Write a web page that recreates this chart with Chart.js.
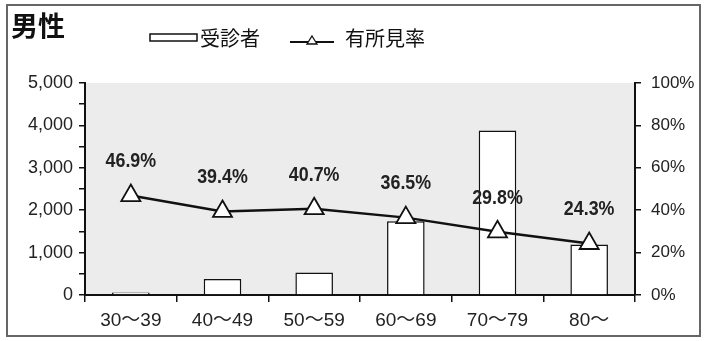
<!DOCTYPE html>
<html lang="ja">
<head>
<meta charset="utf-8">
<script src="https://cdn.jsdelivr.net/npm/chart.js@4"></script>
<style>
  html, body { margin: 0; padding: 0; background: #fff; }
  #wrap { width: 706px; height: 341px; }
</style>
</head>
<body>
<div id="wrap"><canvas id="maleChart"></canvas></div>
<script>
// データ
const ageGroups = ["30～39", "40～49", "50～59", "60～69", "70～79", "80～"];
const examinees = [60, 380, 530, 1740, 3880, 1190];
const findingRate = [46.9, 39.4, 40.7, 36.5, 29.8, 24.3];
const countTicks = [0, 1000, 2000, 3000, 4000, 5000];
const rateTicks = [0, 20, 40, 60, 80, 100];

const TICK_FONT = "'Liberation Sans', Arial, 'Noto Sans CJK JP', sans-serif";
const JP_FONT = "'Noto Sans CJK JP', sans-serif";

// 背景と枠
const frame = {
  id: "frame",
  beforeDraw(chart) {
    const { ctx, chartArea: a } = chart;
    ctx.save();
    ctx.fillStyle = "#ececec";
    ctx.fillRect(a.left, a.top, a.right - a.left, a.bottom - a.top);
    ctx.restore();
  },
  afterDraw(chart) {
    const ctx = chart.ctx;
    ctx.save();
    ctx.strokeStyle = "#666";
    ctx.lineWidth = 2;
    ctx.strokeRect(7, 5, 693, 331);
    ctx.restore();
  }
};

// タイトルと凡例
const header = {
  id: "header",
  afterDraw(chart) {
    const ctx = chart.ctx;
    const ds = chart.data.datasets;
    ctx.save();
    ctx.fillStyle = "#111";
    ctx.textBaseline = "middle";
    ctx.font = "bold 27px " + JP_FONT;
    ctx.fillText("男性", 11, 26);

    // 受診者
    ctx.fillStyle = "#fff";
    ctx.strokeStyle = "#111";
    ctx.lineWidth = 1.5;
    ctx.fillRect(150, 34, 47, 7);
    ctx.strokeRect(150, 34, 47, 7);
    ctx.fillStyle = "#111";
    ctx.font = "20px " + JP_FONT;
    ctx.fillText(ds[0].label, 200, 38);

    // 有所見率
    ctx.lineWidth = 2;
    ctx.beginPath();
    ctx.moveTo(290, 42);
    ctx.lineTo(334, 42);
    ctx.stroke();
    ctx.beginPath();
    ctx.moveTo(312, 36);
    ctx.lineTo(317, 44);
    ctx.lineTo(307, 44);
    ctx.closePath();
    ctx.fillStyle = "#fff";
    ctx.fill();
    ctx.lineWidth = 1.3;
    ctx.stroke();
    ctx.fillStyle = "#111";
    ctx.fillText(ds[1].label, 345, 38);
    ctx.restore();
  }
};

// 数値ラベル（少し縦長の字形に寄せる）
const rateLabels = {
  id: "rateLabels",
  afterDatasetsDraw(chart) {
    const ctx = chart.ctx;
    const meta = chart.getDatasetMeta(1);
    ctx.save();
    ctx.fillStyle = "#222";
    ctx.textAlign = "center";
    ctx.textBaseline = "middle";
    ctx.font = "bold 21px 'Liberation Sans', Arial, sans-serif";
    meta.data.forEach((pt, i) => {
      ctx.save();
      ctx.translate(pt.x, pt.y - 34);
      ctx.scale(0.85, 1);
      ctx.fillText(findingRate[i].toFixed(1) + "%", 0, 0);
      ctx.restore();
    });
    ctx.restore();
  }
};

new Chart(document.getElementById("maleChart"), {
  data: {
    labels: ageGroups,
    datasets: [
      {
        type: "bar",
        label: "受診者",
        data: examinees,
        yAxisID: "y",
        backgroundColor: "#fff",
        borderColor: "#111",
        borderWidth: 1.5,
        categoryPercentage: 1,
        barPercentage: 0.41,
        order: 1
      },
      {
        type: "line",
        label: "有所見率",
        data: findingRate,
        yAxisID: "y1",
        borderColor: "#111",
        borderWidth: 2.5,
        pointStyle: "triangle",
        pointRadius: 11,
        pointBackgroundColor: "#fff",
        pointBorderColor: "#111",
        pointBorderWidth: 1.8,
        order: 0
      }
    ]
  },
  options: {
    responsive: true,
    maintainAspectRatio: false,
    animation: false,
    layout: { padding: { top: 83, left: 0, right: 0, bottom: 0 } },
    plugins: {
      legend: { display: false },
      tooltip: { enabled: false }
    },
    scales: {
      x: {
        grid: { offset: true, drawOnChartArea: false, tickLength: 7, color: "#111", lineWidth: 1.5 },
        border: { color: "#111", width: 2 },
        ticks: { color: "#222", font: { family: TICK_FONT, size: 19 }, padding: 7, maxRotation: 0 },
        afterFit: s => { s.height = 46; }
      },
      y: {
        position: "left",
        min: 0,
        max: 5000,
        afterBuildTicks: s => {
          s.ticks = [];
          for (let v = 0; v <= 5000; v += 500) s.ticks.push({ value: v });
        },
        grid: { drawOnChartArea: false, tickLength: 6, color: "#111", lineWidth: 1.5 },
        border: { color: "#111", width: 2 },
        ticks: {
          autoSkip: false,
          color: "#222",
          font: { family: TICK_FONT, size: 18 },
          padding: 6,
          callback: v => countTicks.includes(v) ? v.toLocaleString("en-US") : ""
        },
        afterFit: s => { s.width = 85; }
      },
      y1: {
        position: "right",
        min: 0,
        max: 100,
        afterBuildTicks: s => { s.ticks = rateTicks.map(v => ({ value: v })); },
        grid: { drawOnChartArea: false, tickLength: 6, color: "#111", lineWidth: 1.5 },
        border: { color: "#111", width: 2 },
        ticks: {
          color: "#222",
          font: { family: TICK_FONT, size: 17 },
          padding: 10,
          callback: v => v + "%"
        },
        afterFit: s => { s.width = 71; }
      }
    }
  },
  plugins: [frame, header, rateLabels]
});
</script>
</body>
</html>
